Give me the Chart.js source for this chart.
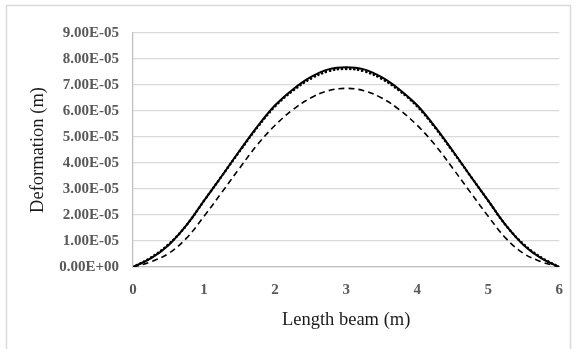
<!DOCTYPE html>
<html>
<head>
<meta charset="utf-8">
<script src="https://cdn.jsdelivr.net/npm/chart.js@4/dist/chart.umd.min.js"></script>
<style>
  html, body { margin: 0; padding: 0; background: #fff; }
  canvas { display: block; }
</style>
</head>
<body>
<canvas id="c" width="577" height="349"></canvas>
<script>
// Positions along the beam (m)
const lengthBeam = [0, 0.25, 0.5, 0.75, 1, 1.25, 1.5, 1.75, 2, 2.25, 2.5, 2.75, 3,
                    3.25, 3.5, 3.75, 4, 4.25, 4.5, 4.75, 5, 5.25, 5.5, 5.75, 6];
// Deformation (m)
const solidSeries = [0, 0.33e-5, 0.84e-5, 1.6e-5, 2.55e-5, 3.5e-5, 4.47e-5, 5.4e-5, 6.22e-5, 6.83e-5, 7.3e-5, 7.6e-5, 7.68e-5,
                     7.6e-5, 7.3e-5, 6.83e-5, 6.22e-5, 5.4e-5, 4.47e-5, 3.5e-5, 2.55e-5, 1.6e-5, 0.84e-5, 0.33e-5, 0];
const dottedSeries = [0, 0.36e-5, 0.87e-5, 1.6e-5, 2.55e-5, 3.5e-5, 4.45e-5, 5.37e-5, 6.18e-5, 6.78e-5, 7.24e-5, 7.53e-5, 7.62e-5,
                      7.53e-5, 7.24e-5, 6.78e-5, 6.18e-5, 5.37e-5, 4.45e-5, 3.5e-5, 2.55e-5, 1.6e-5, 0.87e-5, 0.36e-5, 0];
const dashedSeries = [0, 0.2e-5, 0.52e-5, 1.1e-5, 1.95e-5, 2.87e-5, 3.8e-5, 4.7e-5, 5.45e-5, 6.05e-5, 6.5e-5, 6.78e-5, 6.87e-5,
                      6.78e-5, 6.5e-5, 6.05e-5, 5.45e-5, 4.7e-5, 3.8e-5, 2.87e-5, 1.95e-5, 1.1e-5, 0.52e-5, 0.2e-5, 0];
const xTickLabels = ['0', '1', '2', '3', '4', '5', '6'];

function toPts(ys) { return lengthBeam.map((x, i) => ({ x: x, y: ys[i] })); }

function sciLabel(v) {
  if (Math.abs(v) < 1e-12) return '0.00E+00';
  let e = Math.floor(Math.log10(Math.abs(v)) + 1e-9);
  let m = v / Math.pow(10, e);
  if (Math.abs(m) >= 9.995) { m /= 10; e += 1; }
  const sign = e < 0 ? '-' : '+';
  const ea = Math.abs(e);
  return m.toFixed(2) + 'E' + sign + (ea < 10 ? '0' + ea : '' + ea);
}

const frame = {
  id: 'frame',
  beforeDraw(chart) {
    const ctx = chart.ctx;
    ctx.save();
    ctx.fillStyle = '#ffffff';
    ctx.fillRect(0, 0, chart.width, chart.height);
    ctx.strokeStyle = '#d9d9d9';
    ctx.lineWidth = 1.5;
    ctx.strokeRect(6.5, 5.5, 564, 380);
    ctx.restore();
  }
};

const serif = '"Liberation Serif", "Times New Roman", serif';

new Chart(document.getElementById('c'), {
  type: 'line',
  data: {
    datasets: [
      { data: toPts(dashedSeries), borderColor: '#000', borderWidth: 1.6, borderDash: [6, 4], pointRadius: 0, tension: 0.4, fill: false },
      { data: toPts(solidSeries), borderColor: '#000', borderWidth: 2, pointRadius: 0, tension: 0.4, fill: false },
      { data: toPts(dottedSeries), borderColor: '#000', borderWidth: 2.6, borderDash: [0.1, 4], borderCapStyle: 'round', pointRadius: 0, tension: 0.4, fill: false }
    ]
  },
  options: {
    responsive: false,
    devicePixelRatio: 1,
    animation: false,
    layout: { padding: { left: 23, right: 15, top: 33, bottom: 14 } },
    plugins: { legend: { display: false }, tooltip: { enabled: false } },
    scales: {
      x: {
        type: 'linear', min: 0, max: 6,
        afterBuildTicks(scale) { scale.ticks = xTickLabels.map(t => ({ value: Number(t) })); },
        afterFit(scale) { scale.height = 68; },
        grid: { display: false, drawTicks: false },
        border: { display: true, color: '#bfbfbf', width: 1.3 },
        ticks: { padding: 14, color: '#595959', font: { family: serif, size: 15, weight: 'bold' },
                 callback: v => String(v), maxRotation: 0 },
        title: { display: true, text: 'Length beam (m)', color: '#1a1a1a', font: { family: serif, size: 18.5 }, padding: { top: 4, bottom: 4 } }
      },
      y: {
        type: 'linear', min: 0, max: 9e-5,
        ticks: { stepSize: 1e-5, padding: 14, color: '#595959', font: { family: serif, size: 15, weight: 'bold' }, callback: v => sciLabel(v) },
        afterFit(scale) { scale.width = 110; },
        grid: { color: '#d9d9d9', lineWidth: 1.3, drawTicks: false },
        border: { display: true, color: '#bfbfbf', width: 1.3 },
        title: { display: true, text: 'Deformation (m)', color: '#1a1a1a', font: { family: serif, size: 18.5 }, padding: { top: 4, bottom: 4 } }
      }
    }
  },
  plugins: [frame]
});
</script>
</body>
</html>
